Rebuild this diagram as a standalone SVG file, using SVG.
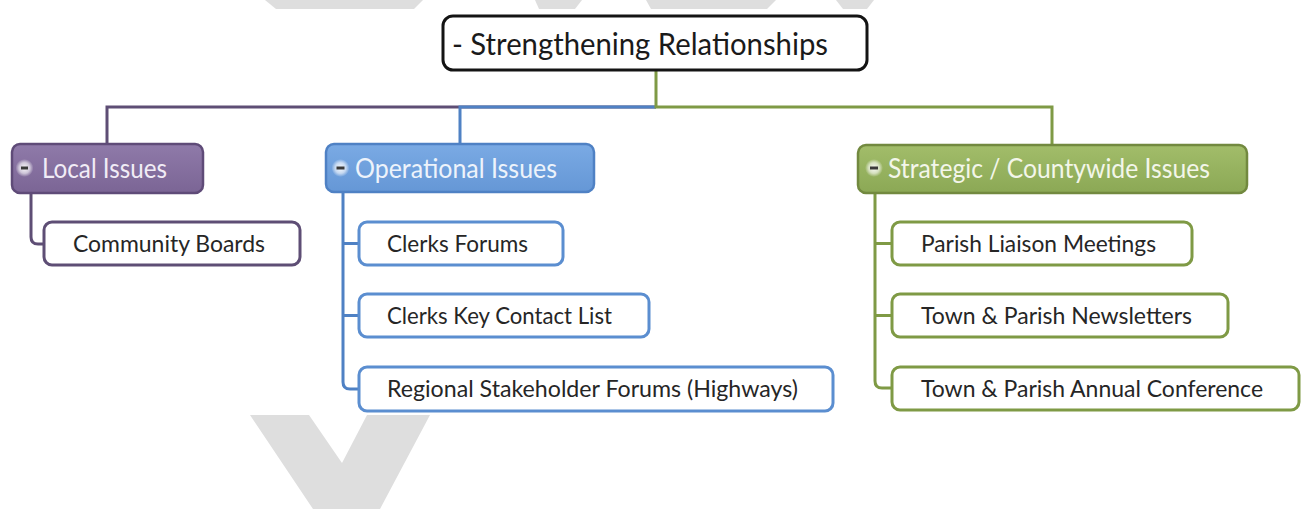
<svg xmlns="http://www.w3.org/2000/svg" width="1304" height="509" viewBox="0 0 1304 509">
  <defs>
    <style>
      .wm { fill: #dedede; }
      .root { fill: #ffffff; stroke: #141414; stroke-width: 3; }
      .l2 { stroke-width: 2.5; }
      .leaf { fill: #ffffff; stroke-width: 3; }
      .t { font-family: Lato, "Open Sans", "Liberation Sans", sans-serif; }
      .troot { font-size: 31px; fill: #1a1a1a; }
      .tl2 { font-size: 26px; }
      .tleaf { font-size: 24px; fill: #262626; }
      .conn { fill: none; stroke-width: 3; }
      .dash { fill: #3a3a3a; }
    </style>
    <linearGradient id="gPurple" x1="0" y1="0" x2="0" y2="1">
      <stop offset="0" stop-color="#8f7aa9"/>
      <stop offset="1" stop-color="#7b6595"/>
    </linearGradient>
    <linearGradient id="gBlue" x1="0" y1="0" x2="0" y2="1">
      <stop offset="0" stop-color="#7aaae4"/>
      <stop offset="1" stop-color="#6597d6"/>
    </linearGradient>
    <linearGradient id="gGreen" x1="0" y1="0" x2="0" y2="1">
      <stop offset="0" stop-color="#a2bd6a"/>
      <stop offset="1" stop-color="#8ba855"/>
    </linearGradient>
    <radialGradient id="glow" cx="0.5" cy="0.5" r="0.5">
      <stop offset="0" stop-color="#ffffff" stop-opacity="0.95"/>
      <stop offset="0.6" stop-color="#ffffff" stop-opacity="0.6"/>
      <stop offset="1" stop-color="#ffffff" stop-opacity="0"/>
    </radialGradient>
  </defs>

  <rect x="0" y="0" width="1304" height="509" fill="#ffffff"/>

  <!-- watermark -->
  <g id="watermark">
    <polygon class="wm" points="265,0 423,0 414,9 276,9"/>
    <polygon class="wm" points="535,0 582,0 575,9 539,9"/>
    <polygon class="wm" points="646,0 776,0 767,9 651,9"/>
    <polygon class="wm" points="836,0 874,0 867,9 843,9"/>
    <polygon class="wm" points="250,415 309,415 342,463 367,415 430,415 380,509 313,509"/>
  </g>

  <!-- connectors -->
  <g id="connectors">
    <path class="conn" stroke="#5e4e75" d="M656,107 H107 V145"/>
    <path class="conn" stroke="#4f81c4" d="M656,107 H460 V145"/>
    <path class="conn" stroke="#7f9a45" d="M656,70 V107 H1052 V145"/>
    <path class="conn" stroke="#5e4e75" d="M31,193 V237 Q31,244 38,244 H45"/>
    <path class="conn" stroke="#4f81c4" d="M343,192 V382 Q343,389 350,389 H360"/>
    <path class="conn" stroke="#4f81c4" d="M343,243.5 H360"/>
    <path class="conn" stroke="#4f81c4" d="M343,315.5 H360"/>
    <path class="conn" stroke="#7f9a45" d="M875,193 V381 Q875,388 882,388 H893"/>
    <path class="conn" stroke="#7f9a45" d="M875,243.5 H893"/>
    <path class="conn" stroke="#7f9a45" d="M875,315.5 H893"/>
  </g>

  <g id="root">
    <rect class="root" x="443" y="16" width="424" height="54" rx="10"/>
    <text class="t troot" x="452" y="55" textLength="376" lengthAdjust="spacingAndGlyphs">- Strengthening Relationships</text>
  </g>

  <g id="local-issues">
    <rect class="l2" x="12" y="144" width="191" height="49" rx="8" fill="url(#gPurple)" stroke="#5f4b78"/>
    <circle cx="24.5" cy="168" r="9" fill="url(#glow)"/>
    <rect class="dash" x="21" y="166.5" width="7" height="3"/>
    <text class="t tl2" x="42" y="178" fill="#f1ecf6" textLength="125" lengthAdjust="spacingAndGlyphs">Local Issues</text>
  </g>

  <g id="operational-issues">
    <rect class="l2" x="326" y="144" width="268" height="48" rx="8" fill="url(#gBlue)" stroke="#4f81c4"/>
    <circle cx="340.5" cy="168" r="9" fill="url(#glow)"/>
    <rect class="dash" x="336.5" y="166.5" width="8" height="3"/>
    <text class="t tl2" x="355" y="178" fill="#edf3fb" textLength="202" lengthAdjust="spacingAndGlyphs">Operational Issues</text>
  </g>

  <g id="strategic-issues">
    <rect class="l2" x="858" y="145" width="389" height="48" rx="8" fill="url(#gGreen)" stroke="#72893f"/>
    <circle cx="874" cy="168" r="9" fill="url(#glow)"/>
    <rect class="dash" x="870" y="166.5" width="8" height="3"/>
    <text class="t tl2" x="888" y="178" fill="#f3f6ea" textLength="322" lengthAdjust="spacingAndGlyphs">Strategic / Countywide Issues</text>
  </g>

  <g id="community-boards">
    <rect class="leaf" x="44" y="222" width="256" height="43" rx="8" stroke="#5e4e75"/>
    <text class="t tleaf" x="73" y="251.5" textLength="192" lengthAdjust="spacingAndGlyphs">Community Boards</text>
  </g>

  <g id="clerks-forums">
    <rect class="leaf" x="359" y="222" width="204" height="43" rx="8" stroke="#5b8ed0"/>
    <text class="t tleaf" x="387" y="251.5" textLength="141" lengthAdjust="spacingAndGlyphs">Clerks Forums</text>
  </g>

  <g id="clerks-key-contact-list">
    <rect class="leaf" x="359" y="294" width="290" height="43" rx="8" stroke="#5b8ed0"/>
    <text class="t tleaf" x="387" y="323.5" textLength="225" lengthAdjust="spacingAndGlyphs">Clerks Key Contact List</text>
  </g>

  <g id="regional-stakeholder-forums">
    <rect class="leaf" x="359" y="367" width="474" height="44" rx="8" stroke="#5b8ed0"/>
    <text class="t tleaf" x="387" y="396.5" textLength="411" lengthAdjust="spacingAndGlyphs">Regional Stakeholder Forums (Highways)</text>
  </g>

  <g id="parish-liaison-meetings">
    <rect class="leaf" x="892" y="222" width="300" height="43" rx="8" stroke="#7f9a45"/>
    <text class="t tleaf" x="921" y="251.5" textLength="235" lengthAdjust="spacingAndGlyphs">Parish Liaison Meetings</text>
  </g>

  <g id="town-parish-newsletters">
    <rect class="leaf" x="892" y="294" width="336" height="43" rx="8" stroke="#7f9a45"/>
    <text class="t tleaf" x="921" y="323.5" textLength="271" lengthAdjust="spacingAndGlyphs">Town &amp; Parish Newsletters</text>
  </g>

  <g id="town-parish-annual-conference">
    <rect class="leaf" x="892" y="367" width="407" height="43" rx="8" stroke="#7f9a45"/>
    <text class="t tleaf" x="921" y="396.5" textLength="342" lengthAdjust="spacingAndGlyphs">Town &amp; Parish Annual Conference</text>
  </g>
</svg>
